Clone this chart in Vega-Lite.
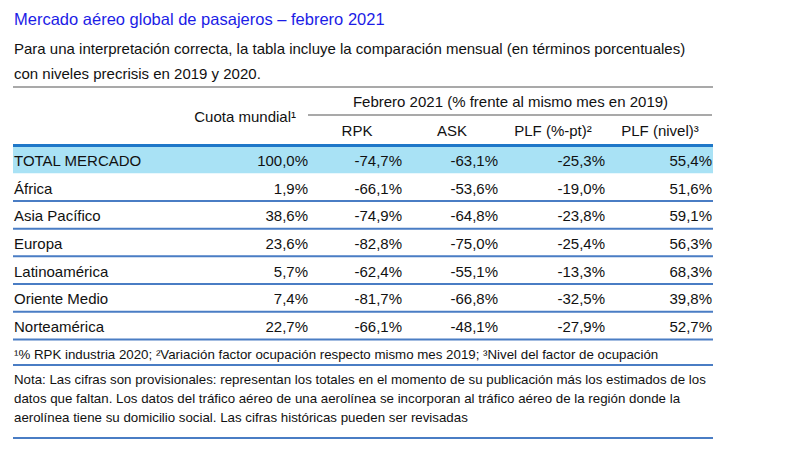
{
  "$schema": "https://vega.github.io/schema/vega-lite/v6.json",
  "width": 700,
  "height": 459,
  "padding": {"left": 13, "right": 87, "top": 0, "bottom": 0},
  "autosize": {"type": "none"},
  "background": "white",
  "datasets": {
    "table": [
      {"region": "TOTAL MERCADO", "cuota": 1.000, "rpk": -0.747, "ask": -0.631, "plfpt": -0.253, "plfniv": 0.554},
      {"region": "África", "cuota": 0.019, "rpk": -0.661, "ask": -0.536, "plfpt": -0.190, "plfniv": 0.516},
      {"region": "Asia Pacífico", "cuota": 0.386, "rpk": -0.749, "ask": -0.648, "plfpt": -0.238, "plfniv": 0.591},
      {"region": "Europa", "cuota": 0.236, "rpk": -0.828, "ask": -0.750, "plfpt": -0.254, "plfniv": 0.563},
      {"region": "Latinoamérica", "cuota": 0.057, "rpk": -0.624, "ask": -0.551, "plfpt": -0.133, "plfniv": 0.683},
      {"region": "Oriente Medio", "cuota": 0.074, "rpk": -0.817, "ask": -0.668, "plfpt": -0.325, "plfniv": 0.398},
      {"region": "Norteamérica", "cuota": 0.227, "rpk": -0.661, "ask": -0.481, "plfpt": -0.279, "plfniv": 0.527}
    ],
    "top": [
      {"part": "title", "text": "Mercado aéreo global de pasajeros – febrero 2021"},
      {"part": "sub", "text": ["Para una interpretación correcta, la tabla incluye la comparación mensual (en términos porcentuales)", "con niveles precrisis en 2019 y 2020."]}
    ],
    "head": [
      {"row": "top", "col": "ask", "text": "Febrero 2021 (% frente al mismo mes en 2019)"},
      {"row": "top", "col": "cuota", "text": "Cuota mundial¹"},
      {"row": "bottom", "col": "rpk", "text": "RPK"},
      {"row": "bottom", "col": "ask", "text": "ASK"},
      {"row": "bottom", "col": "plfpt", "text": "PLF (%-pt)²"},
      {"row": "bottom", "col": "plfniv", "text": "PLF (nivel)³"}
    ],
    "notes": [
      {"part": "fn", "text": "¹% RPK industria 2020; ²Variación factor ocupación respecto mismo mes 2019; ³Nivel del factor de ocupación"},
      {"part": "nota", "text": ["Nota: Las cifras son provisionales: representan los totales en el momento de su publicación más los estimados de los", "datos que faltan. Los datos del tráfico aéreo de una aerolínea se incorporan al tráfico aéreo de la región donde la", "aerolínea tiene su domicilio social. Las cifras históricas pueden ser revisadas"]}
    ]
  },
  "resolve": {"scale": {"y": "independent"}},
  "layer": [
    {
      "data": {"name": "top"},
      "mark": {"type": "text", "align": "left", "baseline": "middle", "dx": 1, "lineHeight": 25},
      "encoding": {
        "x": {"value": 0},
        "y": {"field": "part", "type": "nominal", "scale": {"type": "point", "domain": ["title", "sub"], "range": [20, 48.5], "padding": 0}, "axis": null},
        "text": {"field": "text"},
        "size": {"condition": {"test": "datum.part === 'title'", "value": 16.5}, "value": 15},
        "color": {"condition": {"test": "datum.part === 'title'", "value": "#1c1ce6"}, "value": "#111111"}
      }
    },
    {
      "data": {"name": "head"},
      "encoding": {
        "y": {"field": "row", "type": "nominal", "scale": {"type": "band", "domain": ["top", "bottom"], "range": [87, 143], "paddingInner": 0, "paddingOuter": 0}, "axis": null}
      },
      "layer": [
        {
          "transform": [{"filter": "datum.row === 'top' && datum.col === 'ask'"}],
          "mark": {"type": "rule", "color": "#555555", "strokeWidth": 1.2},
          "encoding": {"y": {"field": "row", "type": "nominal", "bandPosition": 0}}
        },
        {
          "transform": [{"filter": "datum.row === 'top' && datum.col === 'ask'"}],
          "mark": {"type": "rule", "color": "#555555", "strokeWidth": 1.2},
          "encoding": {
            "y": {"field": "row", "type": "nominal", "bandPosition": 1},
            "x": {"datum": "cuota", "type": "nominal", "scale": {"type": "point", "domain": ["cuota", "rpk", "ask", "plfpt", "plfniv"], "range": [295, 699], "padding": 0}, "axis": null},
            "x2": {"datum": "plfniv"}
          }
        },
        {
          "transform": [{"filter": "datum.row === 'top' && datum.col === 'ask'"}],
          "mark": {"type": "text", "align": "center", "baseline": "middle", "fontSize": 15, "dx": 0.5, "dy": 1},
          "encoding": {"x": {"field": "col", "type": "nominal"}, "text": {"field": "text"}}
        },
        {
          "transform": [{"filter": "datum.col === 'cuota'"}],
          "mark": {"type": "text", "align": "right", "baseline": "middle", "fontSize": 15, "dx": -12, "dy": 2},
          "encoding": {"x": {"field": "col", "type": "nominal"}, "y": {"field": "row", "type": "nominal", "bandPosition": 1}, "text": {"field": "text"}}
        },
        {
          "transform": [{"filter": "datum.row === 'bottom' && (datum.col === 'rpk' || datum.col === 'plfniv')"}],
          "mark": {"type": "text", "align": "center", "baseline": "middle", "fontSize": 15, "dx": -52, "dy": 2},
          "encoding": {"x": {"field": "col", "type": "nominal"}, "text": {"field": "text"}}
        },
        {
          "transform": [{"filter": "datum.row === 'bottom' && (datum.col === 'ask' || datum.col === 'plfpt')"}],
          "mark": {"type": "text", "align": "center", "baseline": "middle", "fontSize": 15, "dx": -58, "dy": 2},
          "encoding": {"x": {"field": "col", "type": "nominal"}, "text": {"field": "text"}}
        }
      ]
    },
    {
      "data": {"name": "table"},
      "encoding": {
        "y": {"field": "region", "type": "nominal", "sort": null, "scale": {"type": "band", "domain": ["TOTAL MERCADO", "África", "Asia Pacífico", "Europa", "Latinoamérica", "Oriente Medio", "Norteamérica"], "range": [145.5, 339.5], "paddingInner": 0, "paddingOuter": 0}, "axis": null}
      },
      "layer": [
        {
          "transform": [{"filter": "datum.region === 'TOTAL MERCADO'"}],
          "mark": {"type": "rect", "color": "#a9e2f5"}
        },
        {
          "transform": [{"filter": "datum.region === 'TOTAL MERCADO'"}],
          "mark": {"type": "rule", "color": "#1f77c8", "strokeWidth": 3},
          "encoding": {"y": {"field": "region", "type": "nominal", "bandPosition": 0}}
        },
        {
          "transform": [{"filter": "datum.region !== 'TOTAL MERCADO'"}],
          "mark": {"type": "rule", "color": "#4a7dc4", "strokeWidth": 2},
          "encoding": {"y": {"field": "region", "type": "nominal", "bandPosition": 1}}
        },
        {
          "mark": {"type": "text", "align": "left", "baseline": "middle", "fontSize": 15, "dx": 1, "dy": 1.5},
          "encoding": {"x": {"value": 0}, "text": {"field": "region"}}
        },
        {
          "mark": {"type": "text", "align": "right", "baseline": "middle", "fontSize": 15, "dx": 0, "dy": 1.5},
          "encoding": {"x": {"datum": "cuota", "type": "nominal"}, "text": {"field": "cuota", "type": "quantitative", "format": ".1%"}}
        },
        {
          "mark": {"type": "text", "align": "right", "baseline": "middle", "fontSize": 15, "dx": -7, "dy": 1.5},
          "encoding": {"x": {"datum": "rpk", "type": "nominal"}, "text": {"field": "rpk", "type": "quantitative", "format": ".1%"}}
        },
        {
          "mark": {"type": "text", "align": "right", "baseline": "middle", "fontSize": 15, "dx": -12, "dy": 1.5},
          "encoding": {"x": {"datum": "ask", "type": "nominal"}, "text": {"field": "ask", "type": "quantitative", "format": ".1%"}}
        },
        {
          "mark": {"type": "text", "align": "right", "baseline": "middle", "fontSize": 15, "dx": -6, "dy": 1.5},
          "encoding": {"x": {"datum": "plfpt", "type": "nominal"}, "text": {"field": "plfpt", "type": "quantitative", "format": ".1%"}}
        },
        {
          "mark": {"type": "text", "align": "right", "baseline": "middle", "fontSize": 15, "dx": 0, "dy": 1.5},
          "encoding": {"x": {"datum": "plfniv", "type": "nominal"}, "text": {"field": "plfniv", "type": "quantitative", "format": ".1%"}}
        }
      ]
    },
    {
      "data": {"name": "notes"},
      "transform": [{"filter": "datum.part === 'fn'"}],
      "encoding": {
        "y": {"field": "part", "type": "nominal", "scale": {"type": "band", "domain": ["fn"], "range": [339.5, 365], "paddingInner": 0, "paddingOuter": 0}, "axis": null}
      },
      "layer": [
        {
          "mark": {"type": "text", "align": "left", "baseline": "middle", "fontSize": 13.3, "dx": 1, "dy": 2.5},
          "encoding": {"x": {"value": 0}, "text": {"field": "text"}}
        },
        {
          "mark": {"type": "rule", "color": "#4a7dc4", "strokeWidth": 2},
          "encoding": {"y": {"field": "part", "type": "nominal", "bandPosition": 1}}
        }
      ]
    },
    {
      "data": {"name": "notes"},
      "transform": [{"filter": "datum.part === 'nota'"}],
      "encoding": {
        "y": {"field": "part", "type": "nominal", "scale": {"type": "band", "domain": ["nota"], "range": [365, 438], "paddingInner": 0, "paddingOuter": 0}, "axis": null}
      },
      "layer": [
        {
          "mark": {"type": "text", "align": "left", "baseline": "middle", "fontSize": 13.3, "lineHeight": 19, "dx": 1, "dy": 0.5},
          "encoding": {"x": {"value": 0}, "y": {"field": "part", "type": "nominal", "bandPosition": 0.2}, "text": {"field": "text"}}
        },
        {
          "mark": {"type": "rule", "color": "#4a7dc4", "strokeWidth": 2},
          "encoding": {"y": {"field": "part", "type": "nominal", "bandPosition": 1}}
        }
      ]
    }
  ],
  "config": {
    "view": {"stroke": null},
    "font": "Liberation Sans",
    "text": {"font": "Liberation Sans", "color": "#111111"},
    "locale": {"number": {"decimal": ",", "thousands": ".", "grouping": [3], "currency": ["", " €"], "minus": "-", "percent": "%"}}
  }
}
